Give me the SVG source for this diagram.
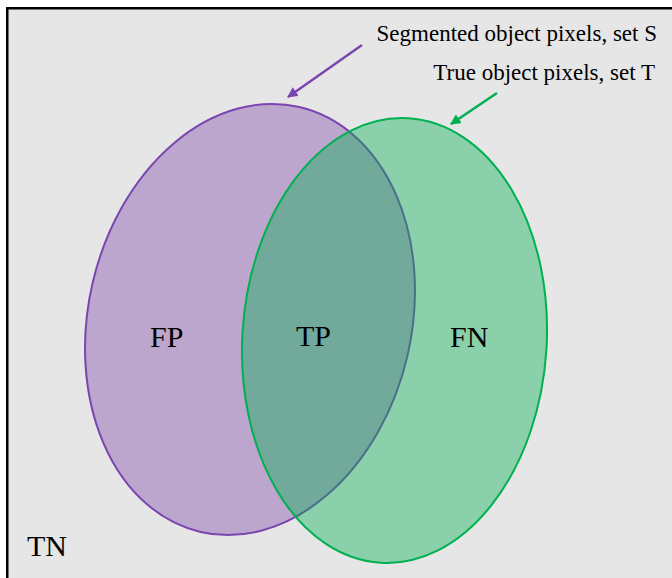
<svg xmlns="http://www.w3.org/2000/svg" width="672" height="578" viewBox="0 0 672 578">
  <style>
    .lbl { font-family: "Liberation Serif", "Times New Roman", serif; fill: #000; }
    .big { font-size: 30px; }
    .small { font-size: 23px; }
  </style>
  <defs>
    <marker id="ahP" viewBox="0 0 10 10" refX="9" refY="5" markerWidth="4.2" markerHeight="4.2" markerUnits="strokeWidth" orient="auto">
      <path d="M0,0 L10,5 L0,10 z" fill="#7b45b0"/>
    </marker>
    <marker id="ahG" viewBox="0 0 10 10" refX="9" refY="5" markerWidth="4.2" markerHeight="4.2" markerUnits="strokeWidth" orient="auto">
      <path d="M0,0 L10,5 L0,10 z" fill="#00b050"/>
    </marker>
  </defs>
  <rect width="672" height="578" fill="#ffffff"/>
  <rect id="frame" x="7.25" y="8.25" width="700" height="600" fill="#e6e6e6" stroke="#000" stroke-width="2.5"/>

  <g id="setS">
    <ellipse cx="250" cy="319.5" rx="161.6" ry="218.1" transform="rotate(13.1 250 319.5)" fill="#bca6cd" stroke="#7b45b0" stroke-width="2"/>
  </g>
  <g id="setT">
    <ellipse cx="394.5" cy="340.5" rx="152.2" ry="222.7" transform="rotate(3.6 394.5 340.5)" fill="#00b050" fill-opacity="0.4" stroke="none"/>
    <ellipse cx="394.5" cy="340.5" rx="152.2" ry="222.7" transform="rotate(3.6 394.5 340.5)" fill="none" stroke="#00b050" stroke-width="2"/>
  </g>

  <g id="connectors">
    <line x1="362" y1="45" x2="288" y2="97" stroke="#7b45b0" stroke-width="2.5" marker-end="url(#ahP)"/>
    <line x1="497" y1="93" x2="451" y2="124" stroke="#00b050" stroke-width="2.5" marker-end="url(#ahG)"/>
  </g>

  <g id="labels">
    <text class="lbl small" x="657" y="41" text-anchor="end">Segmented object pixels, set S</text>
    <text class="lbl small" x="655" y="80" text-anchor="end">True object pixels, set T</text>
    <text class="lbl big" x="150" y="347">FP</text>
    <text class="lbl big" x="296" y="346">TP</text>
    <text class="lbl big" x="450" y="347">FN</text>
    <text class="lbl big" x="27" y="556">TN</text>
  </g>
</svg>
